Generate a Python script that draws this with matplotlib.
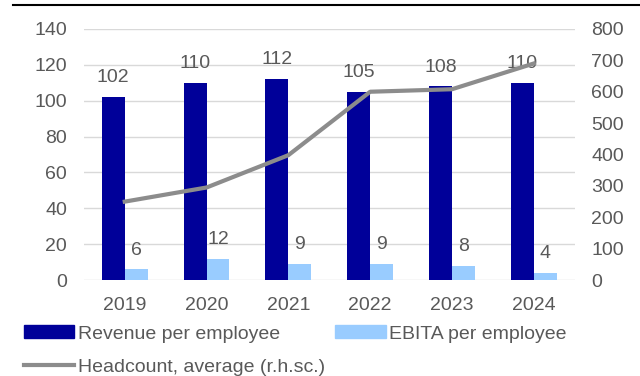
import numpy as np
import matplotlib.pyplot as plt
from matplotlib.lines import Line2D
from matplotlib.patches import Patch

plt.rcParams['font.family'] = ['Liberation Sans', 'DejaVu Sans']

years = ['2019', '2020', '2021', '2022', '2023', '2024']
revenue = [102, 110, 112, 105, 108, 110]
ebita = [6, 12, 9, 9, 8, 4]
headcount = [250, 295, 398, 600, 608, 690]

dark_blue = '#000099'
light_blue = '#99ccff'
grey_line = '#8c8c8c'
txt = '#595959'

fig = plt.figure(figsize=(6.4, 3.76), dpi=100)
ax = fig.add_axes([0.131, 0.255, 0.767, 0.668])
ax2 = ax.twinx()

x = np.arange(len(years))
w = 0.28
b1 = ax.bar(x - w / 2, revenue, w, color=dark_blue, zorder=3)
b2 = ax.bar(x + w / 2, ebita, w, color=light_blue, zorder=3)
for r, v in zip(b1, revenue):
    ax.text(r.get_x() + r.get_width() / 2, v + 6, str(v), ha='center', va='bottom',
            fontsize=14, color=txt, zorder=5)
for r, v in zip(b2, ebita):
    ax.text(r.get_x() + r.get_width() / 2, v + 6, str(v), ha='center', va='bottom',
            fontsize=14, color=txt, zorder=5)

# headcount on the right axis
ax2.plot(x, headcount, color=grey_line, lw=3, zorder=4)

ax.set_xlim(-0.5, len(years) - 0.5)
ax.set_ylim(0, 140)
ax.set_yticks(range(0, 141, 20))
ax2.set_ylim(0, 800)
ax2.set_yticks(range(0, 801, 100))
ax.set_xticks(x)
ax.set_xticklabels(years)
ax.yaxis.grid(True, color='#d9d9d9', lw=1)
ax.set_axisbelow(True)

for a in (ax, ax2):
    for s in a.spines.values():
        s.set_visible(False)
    a.tick_params(length=0, labelsize=14, labelcolor=txt)
ax.tick_params(axis='y', pad=12)
ax2.tick_params(axis='y', pad=12)
ax.tick_params(axis='x', pad=12.5)
ax2.patch.set_visible(False)

handles = [Patch(color=dark_blue), Line2D([], [], color=grey_line, lw=3), Patch(color=light_blue)]
labels = ['Revenue per employee', 'Headcount, average (r.h.sc.)', 'EBITA per employee']
fig.legend(handles, labels, loc='upper left', bbox_to_anchor=(0.037, 0.135), ncol=2,
           frameon=False, fontsize=14, labelcolor=txt, handlelength=2.6, handleheight=0.67,
           handletextpad=0.2, columnspacing=0.5, labelspacing=0.8, borderaxespad=0,
           borderpad=0)

fig.add_artist(Line2D([0.02, 1.0], [0.987, 0.987], color='black', lw=1.5))

fig.savefig('out.png', dpi=100)
